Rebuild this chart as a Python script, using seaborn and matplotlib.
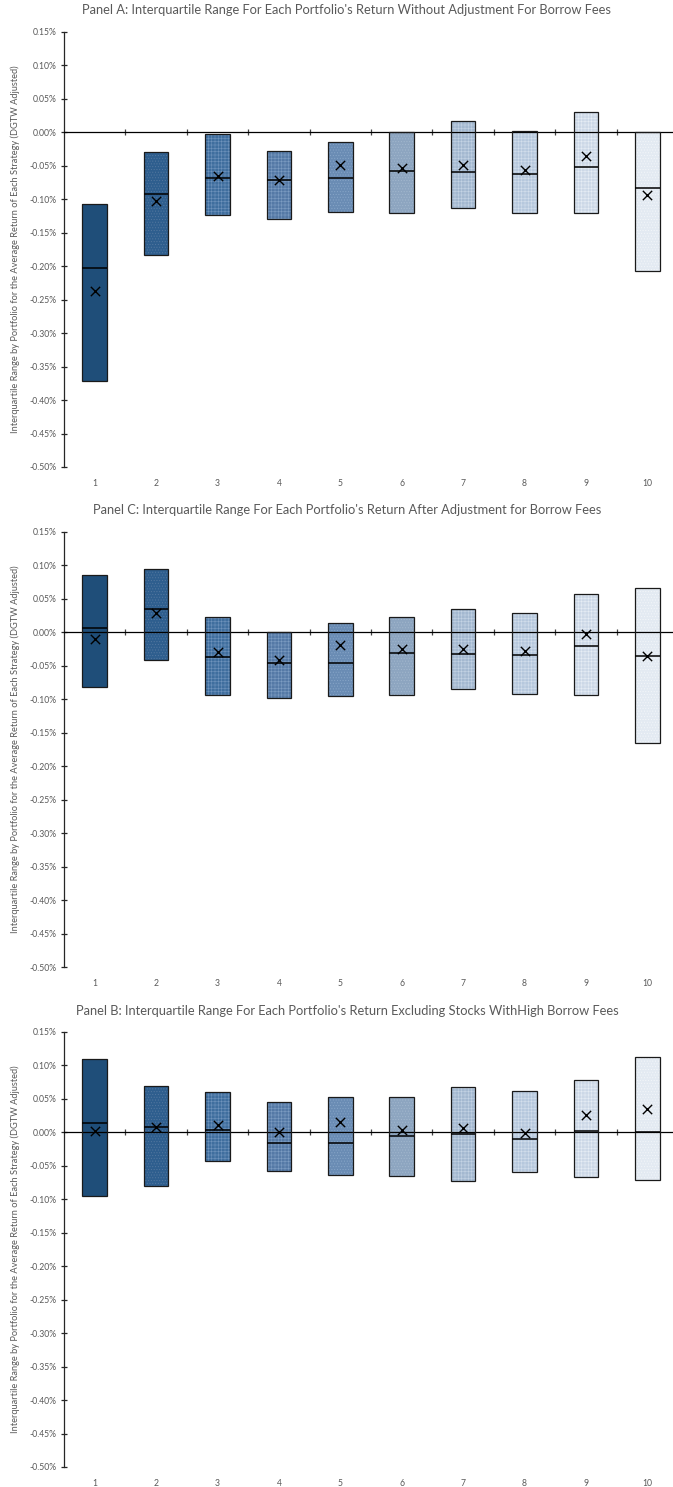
import numpy as np
import pandas as pd
import matplotlib
matplotlib.use("Agg")
import matplotlib.pyplot as plt
import seaborn as sns
from matplotlib.ticker import FuncFormatter, MultipleLocator, FixedLocator

# ---------------- data (values in %) ----------------
portfolios = [1, 2, 3, 4, 5, 6, 7, 8, 9, 10]

a_q3 = [-0.107, -0.030, -0.003, -0.028, -0.014, 0.000, 0.017, 0.002, 0.030, 0.000]
a_median = [-0.2035, -0.0925, -0.069, -0.0717, -0.069, -0.058, -0.059, -0.062, -0.052, -0.0836]
a_mean = [-0.237, -0.103, -0.065, -0.072, -0.049, -0.053, -0.049, -0.057, -0.035, -0.094]
a_q1 = [-0.371, -0.183, -0.124, -0.129, -0.119, -0.121, -0.113, -0.121, -0.121, -0.208]

c_q3 = [0.0855, 0.0935, 0.022, 0.000, 0.013, 0.0224, 0.035, 0.029, 0.057, 0.065]
c_median = [0.0055, 0.034, -0.038, -0.047, -0.047, -0.032, -0.033, -0.035, -0.021, -0.036]
c_mean = [-0.010, 0.029, -0.030, -0.042, -0.020, -0.026, -0.025, -0.029, -0.003, -0.036]
c_q1 = [-0.082, -0.042, -0.0945, -0.0985, -0.096, -0.0935, -0.085, -0.092, -0.0935, -0.166]

b_q3 = [0.110, 0.069, 0.060, 0.045, 0.053, 0.053, 0.068, 0.062, 0.078, 0.113]
b_median = [0.014, 0.008, 0.003, -0.016, -0.016, -0.005, -0.003, -0.0105, 0.002, 0.001]
b_mean = [0.002, 0.0075, 0.011, 0.000, 0.016, 0.004, 0.007, -0.001, 0.025, 0.034]
b_q1 = [-0.095, -0.080, -0.043, -0.058, -0.064, -0.066, -0.0735, -0.059, -0.0675, -0.0715]

titles = [
    "Panel A: Interquartile Range For Each Portfolio's Return Without Adjustment For Borrow Fees",
    "Panel C: Interquartile Range For Each Portfolio's Return After Adjustment for Borrow Fees",
    "Panel B: Interquartile Range For Each Portfolio's Return Excluding Stocks WithHigh Borrow Fees",
]
ylabel = "Interquartile Range by Portfolio for the Average Return of Each Strategy (DGTW Adjusted)"

box_colors = ["#1F4E79", "#2E5E8E", "#3F6E9E", "#5479A6", "#6A8CB4",
              "#8DA5C0", "#A3B8D0", "#B6C8DD", "#CCD8E7", "#E3EAF2"]
hatch_colors = ["#1F4E79", "#5478A0", "#6E93BC", "#7C9CC2", "#88A6C8",
                "#A3B8CE", "#C4D3E4", "#D3DFEC", "#E6EDF5", "#F4F7FA"]
hatches = [None, "......", "+++++", "+++++", "......", "......",
           "+++++", "+++++", "+++++", "......"]

panels = [
    (titles[0], a_q1, a_median, a_q3, a_mean),
    (titles[1], c_q1, c_median, c_q3, c_mean),
    (titles[2], b_q1, b_median, b_q3, b_mean),
]

# ---------------- style ----------------
sns.set_theme(style="white")
plt.rcParams["font.family"] = ["Lato", "DejaVu Sans"]
plt.rcParams["hatch.linewidth"] = 0.4

W, H = 673, 1487
fig = plt.figure(figsize=(W / 100, H / 100), dpi=100)

grey = "#595959"
# pixel layout: (top of axis at 0.15%, bottom at -0.50%, title y)
layout = [(31.7, 467.0, 10.0), (531.5, 967.0, 510.0), (1031.8, 1467.0, 1011.0)]
left_px, width_px = 64.0, 614.0

for (title, q1, med, q3, mean), (top_px, bot_px, title_px) in zip(panels, layout):
    ax = fig.add_axes([left_px / W, 1 - bot_px / H, width_px / W, (bot_px - top_px) / H])
    df = pd.DataFrame({"portfolio": portfolios, "q1": q1, "median": med,
                       "q3": q3, "mean": mean})
    x = df["portfolio"].to_numpy(dtype=float)
    heights = (df["q3"] - df["q1"]).to_numpy()
    bottoms = df["q1"].to_numpy()
    bw = 0.40
    for i in range(len(x)):
        ax.bar(x[i], heights[i], bottom=bottoms[i], width=bw, color=box_colors[i],
               edgecolor=hatch_colors[i], hatch=hatches[i], linewidth=0, zorder=2)
        ax.bar(x[i], heights[i], bottom=bottoms[i], width=bw, fill=False,
               edgecolor="#1a1a1a", linewidth=0.9, zorder=3)
    # median lines
    ax.hlines(df["median"], x - bw / 2, x + bw / 2, colors="black", linewidth=1.1, zorder=4)
    # means
    sns.scatterplot(data=df, x="portfolio", y="mean", marker="x", color="black",
                    s=45, linewidth=1.0, ax=ax, zorder=5, legend=False)

    ax.set_xlim(0.5, 10.5)
    ax.set_ylim(-0.50, 0.15)
    ax.yaxis.set_major_locator(MultipleLocator(0.05))
    ax.yaxis.set_major_formatter(FuncFormatter(lambda v, p: f"{v:.2f}%"))
    ax.tick_params(axis="y", direction="inout", length=5, width=0.9, color="#262626",
                   labelsize=6.2, labelcolor=grey, pad=3, left=True)

    # zero-line axis with boundary ticks
    for s in ["top", "right"]:
        ax.spines[s].set_visible(False)
    ax.spines["left"].set_color("#262626")
    ax.spines["left"].set_linewidth(0.9)
    ax.spines["bottom"].set_position(("data", 0))
    ax.spines["bottom"].set_color("black")
    ax.spines["bottom"].set_linewidth(0.9)
    ax.xaxis.set_major_locator(FixedLocator(portfolios))
    ax.xaxis.set_minor_locator(FixedLocator([p + 0.5 for p in portfolios[:-1]]))
    ax.tick_params(axis="x", which="major", length=0, labelbottom=False, bottom=False)
    ax.tick_params(axis="x", which="minor", direction="inout", length=5, width=0.9,
                   color="#404040", bottom=True)
    ax.set_xlabel("")
    ax.set_ylabel("")
    ax.grid(False)

    sec = ax.secondary_xaxis("bottom")
    sec.set_xticks(portfolios)
    sec.set_xticklabels([str(p) for p in portfolios])
    sec.tick_params(length=0, labelsize=6.2, labelcolor=grey, pad=8.5)
    sec.spines["bottom"].set_visible(False)

    fig.text(347 / W, 1 - title_px / H, title, ha="center", va="center",
             fontsize=9.3, color=grey)
    fig.text(15 / W, 1 - (top_px + bot_px) / 2 / H, ylabel, rotation=90,
             ha="center", va="center", fontsize=6.7, color=grey)

fig.savefig("out.png", dpi=100)
